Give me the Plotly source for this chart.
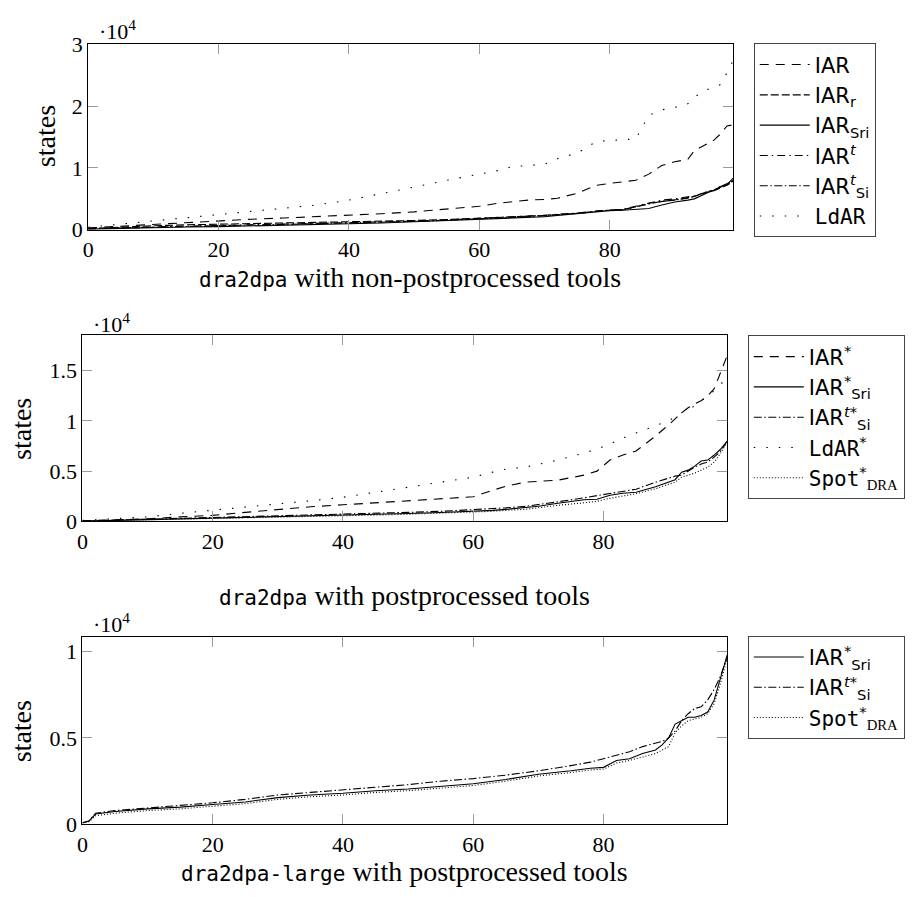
import plotly.graph_objects as go

# ---------------- data ----------------
# Panel 1: dra2dpa with non-postprocessed tools
X1 = [0, 5, 10, 15, 20, 25, 30, 35, 40, 45, 50, 55, 60, 63, 65, 68, 70, 72, 75, 78, 80, 82, 84, 86, 88, 90, 92, 93, 95, 96, 97, 98, 99]
IAR = [300, 600, 900, 1200, 1400, 1700, 1900, 2100, 2400, 2600, 2900, 3300, 3800, 4300, 4500, 4850, 4900, 5100, 5900, 7200, 7500, 7700, 8000, 9000, 10400, 11000, 11400, 12800, 14000, 14500, 15500, 16800, 17000]
IAR_r = [200, 450, 650, 800, 900, 1000, 1050, 1100, 1200, 1350, 1500, 1650, 1850, 1950, 2000, 2150, 2250, 2400, 2650, 3000, 3150, 3250, 3700, 4300, 4600, 4900, 5100, 5400, 6100, 6300, 6700, 7200, 7800]
IAR_Sri = [100, 250, 350, 450, 500, 600, 700, 850, 950, 1100, 1300, 1500, 1750, 1850, 1900, 2000, 2100, 2300, 2600, 2950, 3100, 3150, 3300, 3450, 4000, 4500, 4800, 5000, 6000, 6400, 7000, 7300, 8400]
IAR_t = [200, 350, 500, 600, 700, 800, 900, 1000, 1100, 1250, 1400, 1600, 1850, 1950, 2000, 2200, 2350, 2500, 2700, 3050, 3200, 3300, 3800, 4300, 4800, 5000, 5300, 5500, 6100, 6300, 6900, 7300, 8000]
IAR_t_Si = [150, 300, 450, 550, 650, 750, 850, 950, 1050, 1200, 1350, 1550, 1800, 1900, 1950, 2100, 2250, 2450, 2650, 3000, 3200, 3250, 3700, 4200, 4600, 4800, 5200, 5400, 6200, 6400, 7000, 7400, 7900]
LdAR = [400, 900, 1400, 1900, 2400, 2900, 3400, 4000, 4800, 5800, 6900, 8000, 9000, 9600, 10200, 10500, 10600, 11500, 12400, 14300, 14400, 14500, 14700, 18500, 19400, 19800, 20400, 21500, 22700, 23000, 23500, 25400, 27500]

# Panel 2: dra2dpa with postprocessed tools
X2 = [0, 5, 10, 15, 20, 25, 30, 35, 40, 45, 50, 55, 60, 63, 65, 68, 70, 73, 77, 79, 81, 83, 85, 88, 90, 91, 92, 93, 94, 95, 96, 97, 98, 99]
IAR_s = [50, 150, 250, 450, 600, 900, 1200, 1450, 1650, 1850, 2000, 2200, 2450, 3100, 3500, 3900, 4000, 4100, 4600, 5000, 6100, 6600, 7000, 8500, 9600, 10200, 10800, 11300, 11700, 12000, 12500, 13200, 14800, 16500]
LdAR_s = [100, 250, 450, 800, 1100, 1400, 1700, 2050, 2400, 2900, 3400, 3900, 4400, 4900, 5200, 5400, 5700, 6100, 6800, 7200, 7700, 8300, 8800, 9500, 10000, 10400, 10800, 11100, 11500, 12000, 12500, 13000, 13600, 14500]
IAR_s_Sri = [30, 100, 170, 230, 300, 380, 450, 520, 600, 700, 780, 880, 1000, 1100, 1200, 1350, 1500, 1800, 2150, 2200, 2600, 2800, 2900, 3450, 3900, 4150, 4900, 5100, 5500, 6000, 6100, 6600, 7200, 8000]
IAR_ts_Si = [50, 130, 220, 300, 380, 450, 520, 600, 700, 800, 900, 1000, 1150, 1250, 1350, 1500, 1650, 1950, 2350, 2550, 2800, 3000, 3200, 3900, 4300, 4500, 4600, 5000, 5400, 5700, 5900, 6400, 7000, 8000]
Spot_s = [20, 80, 140, 200, 270, 330, 400, 470, 550, 630, 720, 820, 920, 1000, 1100, 1200, 1350, 1600, 1850, 2000, 2300, 2550, 2750, 3250, 3700, 3900, 4400, 4600, 4800, 5100, 5400, 5900, 6800, 7900]

# Panel 3: dra2dpa-large with postprocessed tools
X3 = [0, 1, 2, 3, 5, 10, 15, 20, 25, 30, 35, 40, 45, 50, 55, 60, 65, 70, 75, 78, 80, 82, 84, 86, 88, 89, 90, 91, 92, 93, 94, 95, 96, 97, 98, 99]
L_Sri = [100, 200, 600, 650, 750, 900, 1000, 1150, 1300, 1550, 1700, 1800, 1950, 2050, 2200, 2350, 2600, 2900, 3100, 3250, 3300, 3700, 3800, 4100, 4300, 4600, 5000, 5800, 6000, 6200, 6200, 6300, 6500, 7200, 8500, 9800]
L_ts_Si = [100, 200, 650, 700, 800, 950, 1100, 1250, 1450, 1700, 1850, 2000, 2150, 2300, 2500, 2650, 2850, 3100, 3400, 3600, 3800, 4000, 4200, 4500, 4700, 4800, 5000, 5400, 6000, 6400, 6700, 6800, 7200, 7800, 8600, 9700]
L_Spot = [80, 150, 500, 550, 650, 800, 900, 1050, 1200, 1450, 1600, 1700, 1850, 1950, 2100, 2250, 2500, 2800, 3000, 3150, 3200, 3550, 3700, 3900, 4100, 4300, 4500, 5300, 5700, 6000, 6100, 6200, 6400, 7000, 8200, 9600]

XTICKS = [0, 20, 40, 60, 80]
Y1TICKS = [0, 10000, 20000, 30000]
Y1TEXT = ["0", "1", "2", "3"]
Y2TICKS = [0, 5000, 10000, 15000]
Y2TEXT = ["0", "0.5", "1", "1.5"]
Y3TICKS = [0, 5000, 10000]
Y3TEXT = ["0", "0.5", "1"]

# ---------------- styles ----------------
W, H = 912, 897
SERIF = "Liberation Serif"
SANS = "DejaVu Sans"
MONO = "DejaVu Sans Mono"

LOOSE_DASH = "9px,7px"
DENSE_DASH = "8px,3px"
DASHDOT = "8px,4px,1.5px,4px"
DENSE_DASHDOT = "8px,2.5px,1.5px,2.5px"
LOOSE_DOT = "1.5px,11px"
DENSE_DOT = "1px,2px"


def px_x(p):
    return p / W


def px_y(p):
    return 1 - p / H


def mono(t, size=None):
    s = f"font-family:{MONO}"
    if size:
        s += f";font-size:{size}px"
    return f"<span style='{s}'>{t}</span>"


def serif_sub(t):
    return f"<sub><span style='font-family:{SERIF}'>{t}</span></sub>"


fig = go.Figure()


def add(x, y, name, dash, xa, ya, leg, width=1.1):
    fig.add_trace(go.Scatter(x=x, y=y, name=name, mode="lines",
                             line=dict(color="black", width=width, dash=dash),
                             xaxis=xa, yaxis=ya, legend=leg))


add(X1, IAR, "IAR", LOOSE_DASH, "x", "y", "legend")
add(X1, IAR_r, "IAR<sub>r</sub>", DENSE_DASH, "x", "y", "legend")
add(X1, IAR_Sri, "IAR<sub>Sri</sub>", "solid", "x", "y", "legend")
add(X1, IAR_t, "IAR<sup><i>t</i></sup>", DASHDOT, "x", "y", "legend")
add(X1, IAR_t_Si, "IAR<sup><i>t</i></sup><sub>Si</sub>", DENSE_DASHDOT, "x", "y", "legend")
add(X1, LdAR, mono("LdAR"), LOOSE_DOT, "x", "y", "legend")

add(X2, IAR_s, "IAR<sup>*</sup>", LOOSE_DASH, "x2", "y2", "legend2")
add(X2, IAR_s_Sri, "IAR<sup>*</sup><sub>Sri</sub>", "solid", "x2", "y2", "legend2")
add(X2, IAR_ts_Si, "IAR<sup><i>t</i>*</sup><sub>Si</sub>", DENSE_DASHDOT, "x2", "y2", "legend2")
add(X2, LdAR_s, mono("LdAR") + "<sup>*</sup>", LOOSE_DOT, "x2", "y2", "legend2")
add(X2, Spot_s, mono("Spot") + "<sup>*</sup>" + serif_sub("DRA"), DENSE_DOT, "x2", "y2", "legend2")

add(X3, L_Sri, "IAR<sup>*</sup><sub>Sri</sub>", "solid", "x3", "y3", "legend3")
add(X3, L_ts_Si, "IAR<sup><i>t</i>*</sup><sub>Si</sub>", DENSE_DASHDOT, "x3", "y3", "legend3")
add(X3, L_Spot, mono("Spot") + "<sup>*</sup>" + serif_sub("DRA"), DENSE_DOT, "x3", "y3", "legend3")

TICKFONT = dict(family=SERIF, size=22, color="black")
axis_common = dict(showline=True, linecolor="black", linewidth=1, mirror="ticks",
                   ticks="inside", ticklen=10, tickcolor="#9a9a9a", tickwidth=1,
                   showgrid=False, zeroline=False, tickfont=TICKFONT)

panels = [
    # (x0px, x1px, ytop_px, ybot_px, ymax, yticks, ytext)
    (82.7, 732.3, 33.3, 224.0, 30000, Y1TICKS, Y1TEXT),
    (77.0, 726.0, 332.7, 524.0, 18500, Y2TICKS, Y2TEXT),
    (77.0, 726.0, 642.7, 835.7, 10850, Y3TICKS, Y3TEXT),
]
for i, (x0, x1, yt, yb, ymax, yv, ytx) in enumerate(panels, start=1):
    sfx = "" if i == 1 else str(i)
    fig.layout["xaxis" + sfx] = dict(axis_common, domain=[px_x(x0), px_x(x1)], range=[0, 99],
                                      tickvals=XTICKS, anchor="y" + sfx)
    fig.layout["yaxis" + sfx] = dict(axis_common, domain=[px_y(yb), px_y(yt)], range=[0, ymax],
                                      tickvals=yv, ticktext=ytx, anchor="x" + sfx)

LEGFONT = dict(family=SANS, size=21, color="black")
leg_common = dict(bordercolor="#444", borderwidth=1, bgcolor="white", font=LEGFONT,
                  xanchor="left", yanchor="top", itemwidth=50, tracegroupgap=0)
fig.update_layout(
    legend=dict(leg_common, x=px_x(752.7), y=px_y(32.3)),
    legend2=dict(leg_common, x=px_x(746.7), y=px_y(332.7)),
    legend3=dict(leg_common, x=px_x(746.7), y=px_y(641.7)),
)

ann = []
LABELFONT = dict(family=SERIF, size=28, color="black")
# axis titles
xlabels = [
    (mono("dra2dpa", 21) + " with non-postprocessed tools", 407, 273),
    (mono("dra2dpa", 21) + " with postprocessed tools", 401, 600),
    (mono("dra2dpa-large", 21) + " with postprocessed tools", 401, 884),
]
for txt, cx, cy in xlabels:
    ann.append(dict(text=txt, x=px_x(cx), y=px_y(cy), xref="paper", yref="paper",
                    showarrow=False, font=LABELFONT, xanchor="center", yanchor="middle"))
for cx, cy in [(40, 128), (15, 429), (15, 740)]:
    ann.append(dict(text="states", x=px_x(cx), y=px_y(cy), xref="paper", yref="paper",
                    showarrow=False, font=LABELFONT, textangle=-90,
                    xanchor="center", yanchor="middle"))
for lx, ly in [(92, 19), (86, 320), (86, 629)]:
    ann.append(dict(text="·10<sup>4</sup>", x=px_x(lx), y=px_y(ly), xref="paper", yref="paper",
                    showarrow=False, font=dict(family=SERIF, size=22, color="black"),
                    xanchor="left", yanchor="middle"))

fig.update_layout(annotations=ann, width=W, height=H, margin=dict(l=0, r=0, t=0, b=0),
                  plot_bgcolor="white", paper_bgcolor="white", showlegend=True)

fig.write_html("out.html")
